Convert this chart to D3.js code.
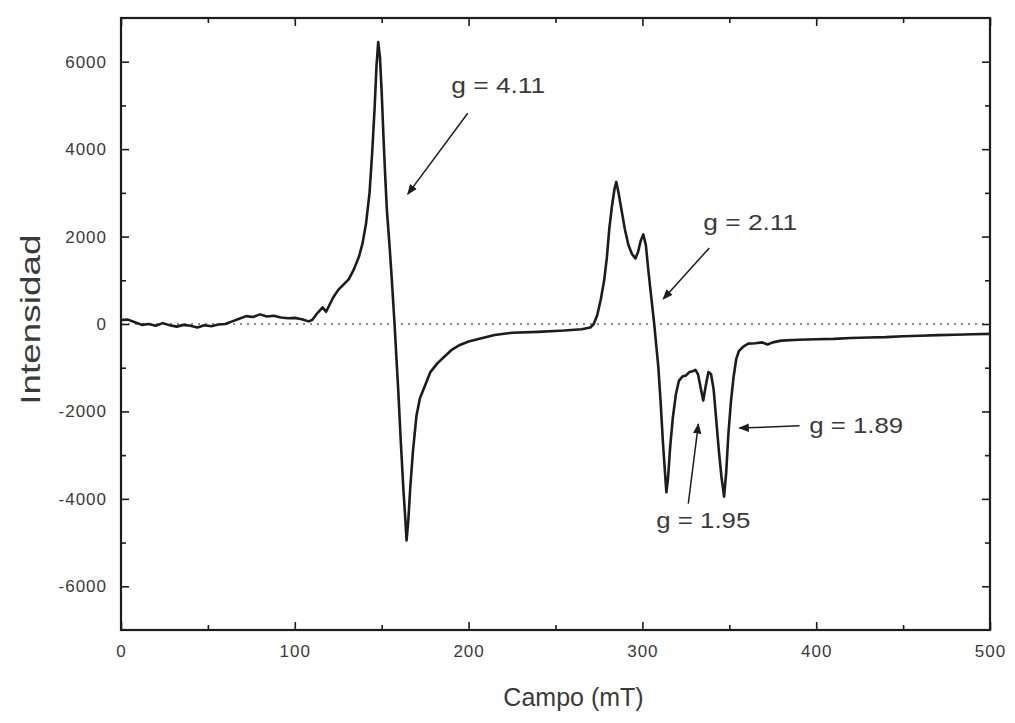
<!DOCTYPE html>
<html>
  <head>
    <meta charset="utf-8">
    <title>Espectro EPR</title>
    <style>
      body { margin: 0; background: #fff; }
      text { font-family: 'Liberation Sans', Arial, sans-serif; }
    </style>
  </head>
  <body>
    <svg id="svg" width="1015" height="723"></svg>
    <script src="https://cdn.jsdelivr.net/npm/d3@7"></script>
    <script>
      // spectrum: field (mT) and intensity
      const field = [
        0, 4, 8, 12, 16, 20, 24, 28, 32, 36, 40, 44, 48, 52, 56, 60, 64, 68, 72, 76,
        80, 84, 88, 92, 96, 100, 104, 108, 110, 113, 116, 118, 120, 122, 125, 128, 131, 134, 137, 139,
        141, 143, 144.5, 146, 147, 148, 149, 150, 151, 152, 153, 154.5, 156, 157.4, 158.5, 159.5, 161, 162.5, 163.5, 164.3,
        165.3, 166.5, 168, 170, 172, 175, 178, 182, 186, 190, 195, 200, 208, 215, 225, 240, 255, 265, 270, 272,
        274, 276, 278, 279.5, 281, 282.5, 284, 285, 286.5, 288, 290, 292, 294, 296, 297.5, 299, 300.5, 302, 303.5, 305,
        306.8, 308, 309.2, 310.5, 311.8, 313, 313.8, 314.8, 316, 317.5, 319.3, 321, 323, 325, 327, 329, 330.5, 332, 333.5, 335,
        336.5, 338, 339.5, 341, 342.5, 344, 345.5, 347, 348.2, 349.5, 351, 352.5, 354, 355.5, 358, 361, 365, 369, 372, 375,
        380, 390, 400, 410, 420, 430, 440, 450, 460, 470, 480, 490, 500
      ];
      const intensity = [
        90, 100, 40, -20, 0, -40, 20, -30, -60, -20, -40, -80, -30, -50, -10, 0, 60, 120, 180, 160,
        220, 170, 190, 150, 130, 140, 110, 60, 90, 250, 380, 280, 440, 600, 780, 900, 1020, 1250, 1550, 1850,
        2300, 3000, 3900, 5000, 5900, 6450, 6100, 5300, 4300, 3400, 2600, 1800, 900, 0, -800, -1500, -2700, -3800, -4400, -4950,
        -4500, -3700, -2900, -2100, -1700, -1400, -1100, -900, -750, -600, -480, -400, -320, -250, -200, -180, -150, -120, -80, 0,
        200, 550, 1000, 1500, 2200, 2700, 3100, 3250, 2950, 2600, 2150, 1800, 1600, 1500, 1650, 1900, 2050, 1800, 1200, 650,
        0, -500, -1000, -1800, -2700, -3400, -3850, -3500, -2800, -2150, -1600, -1300, -1200, -1180, -1100, -1080, -1050, -1150, -1450, -1750,
        -1400, -1100, -1150, -1500, -2200, -2900, -3500, -3950, -3400, -2500, -1750, -1200, -800, -620, -520, -450, -440, -420, -470, -420,
        -380, -360, -350, -340, -320, -310, -300, -280, -270, -255, -245, -235, -225
      ];
      const xTicks = [0, 100, 200, 300, 400, 500];
      const yTicks = [-6000, -4000, -2000, 0, 2000, 4000, 6000];

      // annotations: label position and arrow, in data units
      const labels = ['g = 4.11', 'g = 2.11', 'g = 1.89', 'g = 1.95'];
      const labelAt = [[190, 5280], [335, 2150], [396, -2490], [308, -4660]];
      const arrowFrom = [[199.5, 4820], [338.5, 1740], [390.4, -2330], [326.4, -4110]];
      const arrowTo = [[165, 2970], [312, 570], [355.8, -2380], [332.2, -2290]];

      const svg = d3.select('#svg');
      const plotLeft = 121, plotRight = 990, plotTop = 18, plotBottom = 630;

      const x = d3.scaleLinear().domain([0, 500]).range([plotLeft, plotRight]);
      const y = d3.scaleLinear().domain([-7000, 7000]).range([plotBottom, plotTop]);

      const ink = '#1c1c1c';
      const grey = '#3a3a3a';

      // zero line
      svg.append('line')
        .attr('x1', x(0)).attr('x2', x(500))
        .attr('y1', y(0)).attr('y2', y(0))
        .attr('stroke', '#666')
        .attr('stroke-width', 1.6)
        .attr('stroke-dasharray', '2,5');

      // axes, ticks pointing inward
      const plain = (d) => String(d);
      const addAxis = (axis, tx, ty) => {
        const g = svg.append('g').attr('transform', `translate(${tx}, ${ty})`).call(axis);
        g.select('.domain').remove();
        g.selectAll('line').attr('stroke', ink).attr('stroke-width', 1.6);
        g.selectAll('text').attr('fill', grey).style('font-size', '17px')
          .style('letter-spacing', '1px')
          .style('font-family', "'Liberation Sans', Arial, sans-serif");
        return g;
      };
      const minorX = d3.range(50, 500, 100);
      const minorY = d3.range(-5000, 7000, 2000);
      addAxis(d3.axisBottom(x).tickValues(xTicks).tickFormat(plain).tickSize(-8).tickPadding(15), 0, plotBottom);
      addAxis(d3.axisBottom(x).tickValues(minorX).tickSize(-5).tickFormat(''), 0, plotBottom);
      addAxis(d3.axisTop(x).tickValues(xTicks).tickSize(-8).tickFormat(''), 0, plotTop);
      addAxis(d3.axisTop(x).tickValues(minorX).tickSize(-5).tickFormat(''), 0, plotTop);
      addAxis(d3.axisLeft(y).tickValues(yTicks).tickFormat(plain).tickSize(-8).tickPadding(14), plotLeft, 0);
      addAxis(d3.axisLeft(y).tickValues(minorY).tickSize(-5).tickFormat(''), plotLeft, 0);
      addAxis(d3.axisRight(y).tickValues(yTicks).tickSize(-8).tickFormat(''), plotRight, 0);
      addAxis(d3.axisRight(y).tickValues(minorY).tickSize(-5).tickFormat(''), plotRight, 0);

      // frame
      svg.append('rect')
        .attr('x', plotLeft).attr('y', plotTop)
        .attr('width', plotRight - plotLeft).attr('height', plotBottom - plotTop)
        .attr('fill', 'none')
        .attr('stroke', ink)
        .attr('stroke-width', 2.2);

      // spectrum
      const pts = field.map((f, i) => [f, intensity[i]]);
      const line = d3.line().x((d) => x(d[0])).y((d) => y(d[1]));
      svg.append('path')
        .attr('d', line(pts))
        .attr('fill', 'none')
        .attr('stroke', ink)
        .attr('stroke-width', 2.6)
        .attr('stroke-linejoin', 'round');

      // arrow marker
      svg.append('defs').append('marker')
        .attr('id', 'head')
        .attr('viewBox', '0 0 10 10')
        .attr('refX', 9).attr('refY', 5)
        .attr('markerWidth', 7).attr('markerHeight', 7)
        .attr('orient', 'auto')
        .append('path')
        .attr('d', 'M0,1L10,5L0,9z')
        .attr('fill', ink);

      labels.forEach((t, i) => {
        svg.append('line')
          .attr('x1', x(arrowFrom[i][0])).attr('y1', y(arrowFrom[i][1]))
          .attr('x2', x(arrowTo[i][0])).attr('y2', y(arrowTo[i][1]))
          .attr('stroke', ink)
          .attr('stroke-width', 1.5)
          .attr('marker-end', 'url(#head)');
        svg.append('text')
          .attr('x', x(labelAt[i][0])).attr('y', y(labelAt[i][1]))
          .attr('fill', grey)
          .attr('textLength', 94)
          .attr('lengthAdjust', 'spacingAndGlyphs')
          .style('font-size', '22px')
          .text(t);
      });

      // axis titles
      svg.append('text')
        .attr('x', (plotLeft + plotRight) / 2 + 18).attr('y', 706)
        .attr('text-anchor', 'middle')
        .attr('fill', grey)
        .style('font-size', '25px')
        .text('Campo (mT)');
      svg.append('text')
        .attr('transform', `translate(40, ${y(100)}) rotate(-90)`)
        .attr('text-anchor', 'middle')
        .attr('fill', grey)
        .attr('textLength', 170)
        .attr('lengthAdjust', 'spacingAndGlyphs')
        .style('font-size', '28px')
        .text('Intensidad');
    </script>
  </body>
</html>
